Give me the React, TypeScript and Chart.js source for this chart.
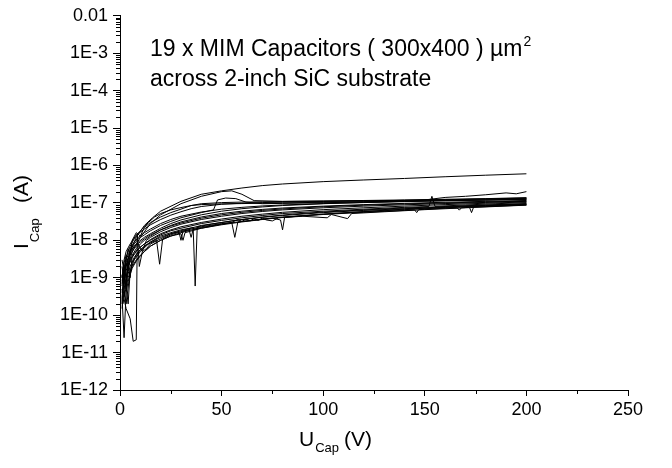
import React, { useEffect, useRef } from 'react';
import { Chart, registerables } from 'chart.js';

Chart.register(...registerables);

// ---- axis ticks ----
const xTickValues = [0, 50, 100, 150, 200, 250];
const xMinorTickValues = [25, 75, 125, 175, 225];
const yTickValues = [1e-12, 1e-11, 1e-10, 1e-9, 1e-8, 1e-7, 1e-6, 1e-5, 1e-4, 1e-3, 1e-2];
const yTickLabels = ['1E-12', '1E-11', '1E-10', '1E-9', '1E-8', '1E-7', '1E-6', '1E-5', '1E-4', '1E-3', '0.01'];
const yMinorMultipliers = [2, 3, 4, 5, 6, 7, 8, 9];

// ---- 19 measured I-V curves: [U (V), I (A)] ----
const cap01 = [[1.5,8e-10],[3,2e-9],[5,5e-9],[8,1.2e-8],[12,2.5e-8],[16,4e-8],[20,6e-8],[30,1.1e-7],[40,1.7e-7],[50,2.1e-7],[60,2.5e-7],[70,2.9e-7],[80,3.2e-7],[100,3.7e-7],[120,4.1e-7],[140,4.5e-7],[160,5e-7],[180,5.5e-7],[200,6e-7]];
const cap02 = [[2,5e-10],[4,2e-9],[6,5e-9],[10,1.2e-8],[15,2.8e-8],[20,4.8e-8],[30,9.5e-8],[40,1.5e-7],[50,2e-7],[55,2.1e-7],[60,1.7e-7],[66,1.15e-7],[80,1.1e-7],[100,1.12e-7],[130,1.15e-7],[160,1.2e-7],[200,1.35e-7]];
const cap03 = [[1,7e-10],[2,1.5e-9],[3,3e-9],[5,5.5e-9],[7,8e-9],[9,1.1e-8],[12,1.4e-8],[15,1.8e-8],[20,2.5e-8],[25,3.2e-8],[30,4e-8],[40,5.5e-8],[46,6.5e-8],[48,1.2e-7],[52,1.35e-7],[57,1.3e-7],[62,1.05e-7],[70,9.5e-8],[80,9.7e-8],[100,1.01e-7],[120,1.06e-7],[140,1.1e-7],[160,1.15e-7],[180,1.2e-7],[200,1.28e-7]];
const cap04 = [[1,3e-10],[2,1.2e-9],[3,2.5e-9],[5,4.5e-9],[7,7e-9],[9,9e-9],[12,1.2e-8],[15,1.5e-8],[20,2.1e-8],[25,2.8e-8],[30,3.5e-8],[40,4.8e-8],[50,6e-8],[60,7e-8],[70,7.8e-8],[80,8.5e-8],[100,9.5e-8],[120,1.03e-7],[140,1.1e-7],[150,1.2e-7],[160,1.4e-7],[170,1.5e-7],[180,1.65e-7],[190,1.85e-7],[195,1.75e-7],[200,2e-7]];
const cap05 = [[1,1e-9],[2,3e-9],[3,5e-9],[5,8e-9],[8,1.4e-8],[11,2e-8],[14,3e-8],[17,4.2e-8],[20,5.2e-8],[25,6.5e-8],[30,7.5e-8],[35,8.5e-8],[40,9e-8],[50,9.4e-8],[60,9.6e-8],[70,9.8e-8],[80,1e-7],[100,1.04e-7],[120,1.08e-7],[140,1.12e-7],[160,1.16e-7],[180,1.2e-7],[200,1.24e-7]];
const cap06 = [[1.5,2e-10],[3,8e-10],[5,2e-9],[7,3.5e-9],[9,5e-9],[12,7e-9],[15,9e-9],[20,1.2e-8],[25,1.5e-8],[29,1.7e-8],[30,1e-8],[31,1.75e-8],[34,1.9e-8],[35,1.2e-8],[36,1.95e-8],[40,2.1e-8],[50,2.6e-8],[60,3.1e-8],[70,3.6e-8],[80,4.1e-8],[100,5e-8],[120,5.9e-8],[140,6.8e-8],[160,7.6e-8],[180,8.4e-8],[200,9.2e-8]];
const cap07 = [[1,3e-9],[2,1.5e-9],[3,5e-10],[4,3e-9],[5,5e-9],[7,7e-9],[10,9e-9],[12,1.1e-8],[15,1.4e-8],[20,1.9e-8],[25,2.4e-8],[30,2.9e-8],[40,3.9e-8],[50,4.8e-8],[60,5.6e-8],[70,6.3e-8],[80,6.9e-8],[100,7.9e-8],[120,8.7e-8],[140,9.4e-8],[160,1e-7],[180,1.06e-7],[200,1.12e-7]];
const cap08 = [[1,3e-10],[2,2.5e-11],[3,4e-10],[4,8e-10],[5,1.2e-9],[6,1.8e-9],[8,2.8e-9],[10,3.8e-9],[12,5e-9],[15,7e-9],[20,1e-8],[25,1.3e-8],[30,1.6e-8],[40,2.2e-8],[50,2.7e-8],[60,3.2e-8],[70,3.7e-8],[80,4.2e-8],[100,5e-8],[120,5.8e-8],[140,6.6e-8],[160,7.4e-8],[180,8.2e-8],[200,9e-8]];
const cap09 = [[1,5e-10],[3,1.5e-10],[5,8e-11],[6.5,2e-11],[8,2.2e-11],[8.5,1.5e-8],[9.5,2e-9],[11,5e-9],[13,6e-9],[15,8e-9],[20,1.1e-8],[25,1.5e-8],[30,1.8e-8],[40,2.5e-8],[50,3e-8],[60,3.6e-8],[70,4.1e-8],[80,4.6e-8],[100,5.5e-8],[120,6.3e-8],[140,7e-8],[160,7.8e-8],[180,8.6e-8],[200,9.4e-8]];
const cap10 = [[1.5,1e-9],[3,6e-10],[4,2e-10],[5,1.5e-9],[7,3e-9],[10,5e-9],[15,9e-9],[20,1.3e-8],[25,1.6e-8],[30,1.9e-8],[36,2.2e-8],[37,6e-10],[38,2.3e-8],[45,2.7e-8],[55,3.3e-8],[70,4.2e-8],[85,5e-8],[100,5.7e-8],[120,6.5e-8],[140,7.3e-8],[160,8e-8],[180,8.8e-8],[200,9.6e-8]];
const cap11 = [[1,1.2e-9],[2,5e-10],[3,2e-10],[4.5,9e-10],[6,2.5e-9],[8,4e-9],[10,5.5e-9],[13,7.5e-9],[16,9e-9],[18,1e-8],[19.5,2.3e-9],[21,1.1e-8],[25,1.4e-8],[30,1.7e-8],[35,2e-8],[40,2.3e-8],[50,2.8e-8],[55,3e-8],[56.5,1.2e-8],[58,3.1e-8],[65,3.4e-8],[75,3.9e-8],[79,3.5e-8],[80,1.9e-8],[81,4.1e-8],[90,4.5e-8],[100,4.9e-8],[120,5.6e-8],[140,6.3e-8],[145,6.5e-8],[146,5.5e-8],[147,6.6e-8],[160,7.2e-8],[166,7.3e-8],[167,6.4e-8],[168,7.4e-8],[172,7.6e-8],[173,5.5e-8],[174,7.7e-8],[200,8.8e-8]];
const cap12 = [[2,3e-10],[4,1e-9],[6,2e-9],[8,3e-9],[10,4e-9],[12,5e-9],[15,7e-9],[20,1e-8],[25,1.3e-8],[30,1.5e-8],[31,1e-8],[32,1.6e-8],[40,2.1e-8],[50,2.7e-8],[55,3e-8],[58,3.6e-8],[60,3.2e-8],[62,3.7e-8],[64,3.3e-8],[66,3.8e-8],[68,3.4e-8],[70,3.9e-8],[72,3.5e-8],[75,3.3e-8],[78,4e-8],[90,4.4e-8],[102,4e-8],[104,4.9e-8],[112,3.8e-8],[114,5.2e-8],[130,5.8e-8],[150,6.6e-8],[170,7.4e-8],[200,8.7e-8]];
const cap13 = [[1,2e-9],[2,8e-10],[3,2.5e-9],[4,1.5e-9],[5,3e-9],[7,4.5e-9],[9,6e-9],[12,8e-9],[15,1e-8],[20,1.4e-8],[25,1.8e-8],[30,2.1e-8],[40,2.8e-8],[50,3.4e-8],[60,4e-8],[70,4.6e-8],[80,5.2e-8],[100,6e-8],[120,6.8e-8],[140,7.6e-8],[152,8e-8],[153.5,1.5e-7],[155,8.1e-8],[170,8.8e-8],[185,9.5e-8],[200,1.02e-7]];
const cap14 = [[1,4e-10],[2,1e-9],[3,6e-10],[4,2e-9],[6,3.5e-9],[8,5e-9],[10,6.5e-9],[12,8e-9],[15,1.05e-8],[20,1.5e-8],[25,1.9e-8],[30,2.3e-8],[40,3e-8],[50,3.7e-8],[60,4.4e-8],[70,5e-8],[80,5.6e-8],[100,6.6e-8],[120,7.4e-8],[140,8.2e-8],[160,9e-8],[180,9.8e-8],[200,1.06e-7]];
const cap15 = [[1,8e-10],[2,2e-9],[3,1e-9],[5,4e-9],[7,6e-9],[9,8e-9],[11,5e-9],[13,1e-8],[15,1.2e-8],[20,1.7e-8],[25,2.2e-8],[30,2.7e-8],[40,3.6e-8],[50,4.4e-8],[60,5.2e-8],[70,5.9e-8],[80,6.5e-8],[100,7.4e-8],[120,8.2e-8],[140,8.9e-8],[160,9.6e-8],[180,1.03e-7],[200,1.1e-7]];
const cap16 = [[1,1.5e-10],[2,6e-10],[3,1.5e-9],[4,2.5e-9],[5,1e-9],[6,4e-9],[8,6e-9],[10,8e-9],[12,1e-8],[15,1.3e-8],[20,1.9e-8],[25,2.5e-8],[30,3.1e-8],[40,4.2e-8],[50,5.2e-8],[60,6e-8],[70,6.7e-8],[80,7.3e-8],[100,8.2e-8],[120,9e-8],[140,9.7e-8],[160,1.04e-7],[180,1.1e-7],[200,1.16e-7]];
const cap17 = [[1,1e-9],[2,2.5e-9],[3,4e-9],[4,2e-9],[5,6e-9],[7,9e-9],[9,1.2e-8],[12,1.6e-8],[15,2e-8],[20,2.8e-8],[25,3.6e-8],[30,4.4e-8],[40,5.7e-8],[50,6.8e-8],[60,7.6e-8],[70,8.3e-8],[80,8.8e-8],[100,9.6e-8],[120,1.02e-7],[140,1.08e-7],[160,1.14e-7],[180,1.19e-7],[200,1.25e-7]];
const cap18 = [[1,6e-10],[2,1.8e-9],[3,3.5e-9],[5,7e-9],[7,1.1e-8],[9,1.5e-8],[12,2e-8],[15,2.6e-8],[20,3.6e-8],[25,4.7e-8],[30,5.8e-8],[35,7e-8],[40,8e-8],[50,9.2e-8],[60,9.8e-8],[70,1.02e-7],[80,1.05e-7],[100,1.09e-7],[120,1.13e-7],[140,1.17e-7],[160,1.22e-7],[180,1.27e-7],[200,1.32e-7]];
const cap19 = [[1,2e-10],[2,1e-9],[3,3e-9],[4,6e-9],[5,4e-9],[6,1e-8],[8,1.6e-8],[10,1.3e-8],[12,2.2e-8],[15,3e-8],[20,4.2e-8],[25,5.5e-8],[30,6.8e-8],[35,8.5e-8],[40,9.5e-8],[50,1.02e-7],[60,1.05e-7],[70,1.07e-7],[80,1.09e-7],[100,1.12e-7],[120,1.16e-7],[140,1.2e-7],[160,1.25e-7],[180,1.3e-7],[200,1.38e-7]];

const curves = [cap01, cap02, cap03, cap04, cap05, cap06, cap07, cap08, cap09, cap10,
  cap11, cap12, cap13, cap14, cap15, cap16, cap17, cap18, cap19];

const FONT = '"Liberation Sans", Arial, Helvetica, sans-serif';

const decorPlugin = {
  id: 'decor',
  afterDraw(chart: any) {
    const { ctx, chartArea } = chart;
    const xs = chart.scales.x;
    const ys = chart.scales.y;
    ctx.save();
    ctx.strokeStyle = '#000';
    ctx.lineWidth = 1;
    // minor ticks
    ctx.beginPath();
    for (let e = -12; e < -2; e++) {
      for (const m of yMinorMultipliers) {
        const py = Math.round(ys.getPixelForValue(m * Math.pow(10, e))) + 0.5;
        ctx.moveTo(chartArea.left - 4, py);
        ctx.lineTo(chartArea.left, py);
      }
    }
    for (const v of xMinorTickValues) {
      const px = Math.round(xs.getPixelForValue(v)) + 0.5;
      ctx.moveTo(px, chartArea.bottom);
      ctx.lineTo(px, chartArea.bottom + 4);
    }
    ctx.stroke();

    ctx.fillStyle = '#000';
    ctx.textBaseline = 'alphabetic';
    ctx.textAlign = 'left';
    // annotation
    ctx.font = `23px ${FONT}`;
    const line1 = '19 x MIM Capacitors ( 300x400 ) µm';
    ctx.fillText(line1, 150, 56);
    const w1 = ctx.measureText(line1).width;
    ctx.fillText('across 2-inch SiC substrate', 150, 85.5);
    ctx.font = `14px ${FONT}`;
    ctx.fillText('2', 150 + w1 + 1, 46);

    // x title
    ctx.font = `21px ${FONT}`;
    ctx.fillText('U', 299, 446);
    const wU = ctx.measureText('U').width;
    ctx.font = `13px ${FONT}`;
    ctx.fillText('Cap', 299 + wU + 1, 452);
    ctx.font = `21px ${FONT}`;
    ctx.fillText('(V)', 344, 446);

    // y title (rotated)
    ctx.translate(28, 249);
    ctx.rotate(-Math.PI / 2);
    ctx.font = `21px ${FONT}`;
    ctx.fillText('I', 0, 0);
    const wI = ctx.measureText('I').width;
    ctx.font = `13px ${FONT}`;
    ctx.fillText('Cap', wI + 1, 11);
    ctx.font = `21px ${FONT}`;
    ctx.fillText('(A)', 46, 0);
    ctx.restore();
  },
};

export default function App() {
  const ref = useRef<HTMLCanvasElement>(null);
  useEffect(() => {
    document.body.style.margin = '0';
    const chart = new Chart(ref.current as HTMLCanvasElement, {
      type: 'line',
      data: {
        datasets: curves.map((c, i) => ({
          label: 'Capacitor ' + (i + 1),
          data: c.map(([x, y]) => ({ x, y })),
          borderColor: '#000',
          borderWidth: 1,
          pointRadius: 0,
          fill: false,
          tension: 0,
        })),
      },
      options: {
        responsive: false,
        animation: false,
        devicePixelRatio: 1,
        layout: { padding: { top: 15, right: 44, left: 0, bottom: 0 } },
        plugins: { legend: { display: false }, tooltip: { enabled: false } },
        scales: {
          x: {
            type: 'linear',
            min: 0,
            max: 250,
            afterBuildTicks: (s: any) => { s.ticks = xTickValues.map((v) => ({ value: v })); },
            afterFit: (s: any) => { s.height = 78; },
            ticks: { color: '#000', font: { family: FONT, size: 18 }, padding: 3, maxRotation: 0, autoSkip: false },
            grid: { display: true, drawOnChartArea: false, drawTicks: true, tickLength: 6, color: '#000' },
            border: { display: true, color: '#000', width: 1 },
          },
          y: {
            type: 'logarithmic',
            min: 1e-12,
            max: 1e-2,
            afterBuildTicks: (s: any) => { s.ticks = yTickValues.map((v) => ({ value: v })); },
            afterFit: (s: any) => { s.width = 120; },
            ticks: {
              color: '#000',
              font: { family: FONT, size: 18 },
              padding: 5,
              autoSkip: false,
              callback: (v: any) => {
                const i = yTickValues.findIndex((t) => Math.abs(Math.log10(t) - Math.log10(Number(v))) < 1e-6);
                return i >= 0 ? yTickLabels[i] : '';
              },
            },
            grid: { display: true, drawOnChartArea: false, drawTicks: true, tickLength: 7, color: '#000' },
            border: { display: true, color: '#000', width: 1 },
          },
        },
      },
      plugins: [decorPlugin],
    } as any);
    return () => chart.destroy();
  }, []);
  return <canvas ref={ref} width={672} height={468} style={{ display: 'block' }} />;
}
